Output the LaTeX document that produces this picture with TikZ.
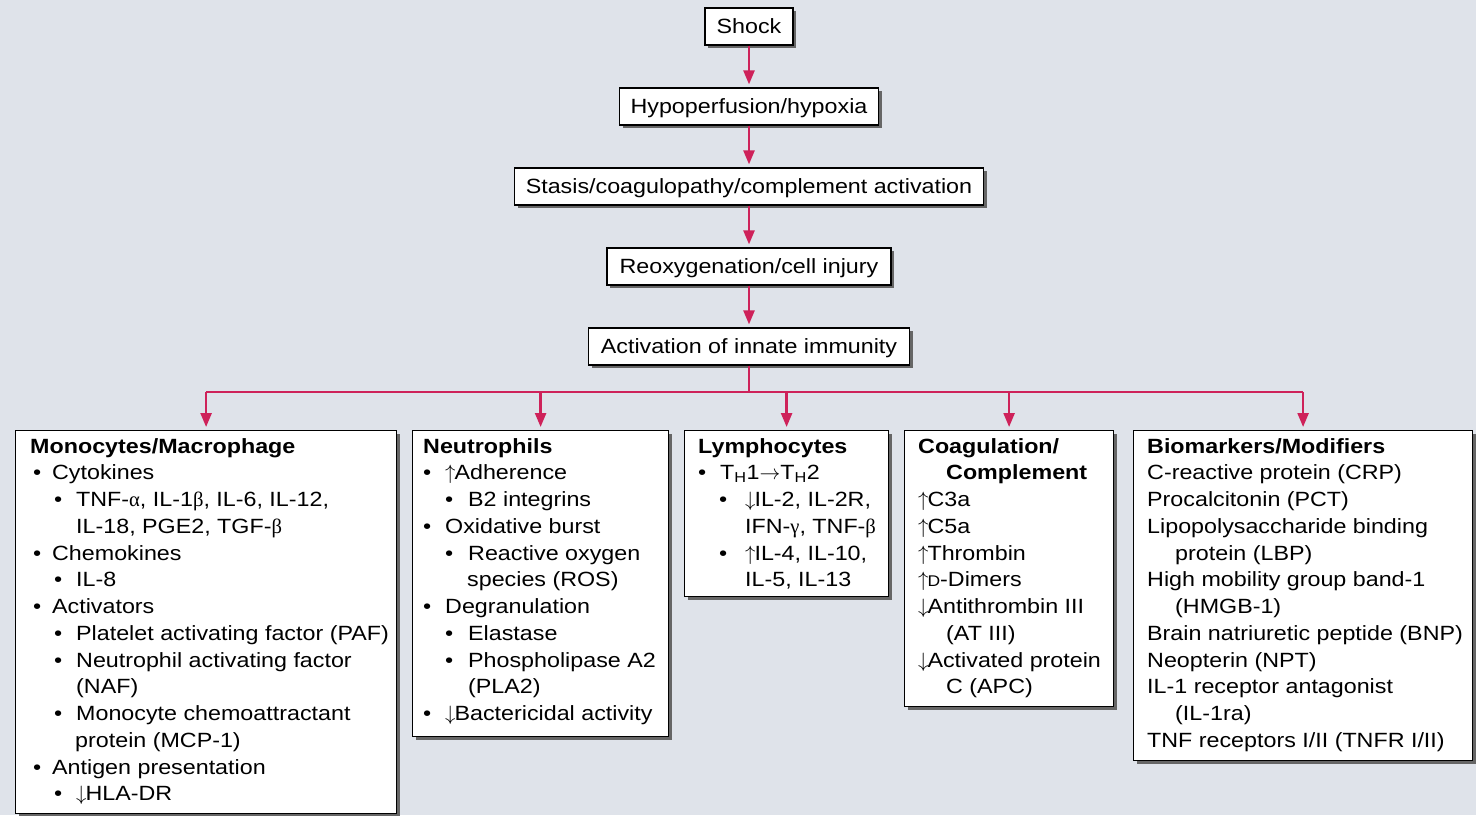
\documentclass[tikz,border=0pt]{standalone}
\usepackage{fontspec}
\setmainfont{Liberation Sans}[FakeStretch=1.13]
\newfontfamily\grk{Liberation Serif}
\usetikzlibrary{arrows.meta,shadows,calc}
\definecolor{bg}{RGB}{223,227,234}
\definecolor{arr}{RGB}{206,34,90}
\newcommand\Bu[3]{\hspace*{#1pt}\makebox[0pt]{•}\hspace*{#2pt}#3}
\newcommand\Ind[2]{\hspace*{#1pt}#2}
\newcommand\smD{{\fontsize{15.5}{15.5}\selectfont D}}
\newcommand\up{$\uparrow$\hspace{-1pt}}
\newcommand\dn{$\downarrow$\hspace{-1pt}}
\newcommand\ga{{\grk α}}
\newcommand\gb{{\grk β}}
\newcommand\gc{{\grk γ}}
\tikzset{
  box/.style={draw=black, line width=1.2pt, fill=white, inner sep=0pt,
    drop shadow={shadow xshift=3pt, shadow yshift=-3pt, fill=black!60, opacity=1}},
  topbox/.style={box, minimum height=37pt, text height=16pt, text depth=3pt,
    font=\fontsize{20.6}{26.75}\selectfont},
  lowbox/.style={box, anchor=north west},
  txt/.style={anchor=base west, inner sep=0pt, align=left,
    font=\fontsize{20.6}{26.75}\selectfont},
  link/.style={draw=arr, line width=2.4pt},
  conn/.style={link, -{Triangle[width=11pt,length=14pt]}, shorten >=3pt}
}
\begin{document}
\begin{tikzpicture}[x=1pt,y=-1pt]
\fill[bg] (0,0) rectangle (1476,815);
\useasboundingbox (0,0) rectangle (1476,815);

% top chain
\node[topbox, minimum width=88pt]  (shock)  at (749,26.5)  {Shock};
\node[topbox, minimum width=259pt] (hypo)   at (749,106.5) {Hypoperfusion/hypoxia};
\node[topbox, minimum width=469pt] (stasis) at (749,186.5) {Stasis/coagulopathy/complement activation};
\node[topbox, minimum width=284pt] (reox)   at (749,266.5) {Reoxygenation/cell injury};
\node[topbox, minimum width=321pt] (act)    at (749,346.5) {Activation of innate immunity};

% lower boxes
\node[lowbox, minimum width=381pt, minimum height=383pt] (mono)  at (15,430)   {};
\node[lowbox, minimum width=256pt, minimum height=306pt] (neut)  at (412,430)  {};
\node[lowbox, minimum width=204pt, minimum height=166pt] (lymph) at (684,430)  {};
\node[lowbox, minimum width=209pt, minimum height=276pt] (coag)  at (904,430)  {};
\node[lowbox, minimum width=339pt, minimum height=330pt] (bio)   at (1133,430) {};

% connectors
\coordinate (bus) at (749,392);
\draw[conn] (shock.south) -- (hypo.north);
\draw[conn] (hypo.south) -- (stasis.north);
\draw[conn] (stasis.south) -- (reox.north);
\draw[conn] (reox.south) -- (act.north);
\draw[link] (act.south) -- (bus);
\draw[link] (mono.north |- bus) -- (bio.north |- bus);
\draw[conn] (mono.north |- bus) -- (mono.north);
\draw[conn] (neut.north |- bus) -- (neut.north);
\draw[conn] (lymph.north |- bus) -- (lymph.north);
\draw[conn] (coag.north |- bus) -- (coag.north);
\draw[conn] (bio.north |- bus) -- (bio.north);

% texts
\node[txt] (monot) at (30,453) {\begin{tabular}[t]{@{}l@{}}
\textbf{Monocytes/Macrophage}\\
\Bu{7}{15}{Cytokines}\\
\Bu{28}{18}{TNF-\ga, IL-1\gb, IL-6, IL-12,}\\
\Ind{46}{IL-18, PGE2, TGF-\gb}\\
\Bu{7}{15}{Chemokines}\\
\Bu{28}{18}{IL-8}\\
\Bu{7}{15}{Activators}\\
\Bu{28}{18}{Platelet activating factor (PAF)}\\
\Bu{28}{18}{Neutrophil activating factor}\\
\Ind{46}{(NAF)}\\
\Bu{28}{18}{Monocyte chemoattractant}\\
\Ind{45}{protein (MCP-1)}\\
\Bu{7}{15}{Antigen presentation}\\
\Bu{28}{18}{\dn HLA-DR}
\end{tabular}};

\node[txt] (neutt) at (423,453) {\begin{tabular}[t]{@{}l@{}}
\textbf{Neutrophils}\\
\Bu{4}{18}{\up Adherence}\\
\Bu{26}{19}{B2 integrins}\\
\Bu{4}{18}{Oxidative burst}\\
\Bu{26}{19}{Reactive oxygen}\\
\Ind{44}{species (ROS)}\\
\Bu{4}{18}{Degranulation}\\
\Bu{26}{19}{Elastase}\\
\Bu{26}{19}{Phospholipase A2}\\
\Ind{45}{(PLA2)}\\
\Bu{4}{18}{\dn Bactericidal activity}
\end{tabular}};

\node[txt] (lympht) at (698,453) {\begin{tabular}[t]{@{}l@{}}
\textbf{Lymphocytes}\\
\Bu{4}{18}{T\textsubscript{H}1$\rightarrow$T\textsubscript{H}2}\\
\Bu{25}{22}{\dn IL-2, IL-2R,}\\
\Ind{47}{IFN-\gc, TNF-\gb}\\
\Bu{25}{22}{\up IL-4, IL-10,}\\
\Ind{47}{IL-5, IL-13}
\end{tabular}};

\node[txt] (coagt) at (918,453) {\begin{tabular}[t]{@{}l@{}}
\textbf{Coagulation/}\\
\Ind{28}{\textbf{Complement}}\\
\up C3a\\
\up C5a\\
\up Thrombin\\
\up\smD-Dimers\\
\dn Antithrombin III\\
\Ind{28}{(AT III)}\\
\dn Activated protein\\
\Ind{28}{C (APC)}
\end{tabular}};

\node[txt] (biot) at (1147,453) {\begin{tabular}[t]{@{}l@{}}
\textbf{Biomarkers/Modifiers}\\
C-reactive protein (CRP)\\
Procalcitonin (PCT)\\
Lipopolysaccharide binding\\
\Ind{28}{protein (LBP)}\\
High mobility group band-1\\
\Ind{28}{(HMGB-1)}\\
Brain natriuretic peptide (BNP)\\
Neopterin (NPT)\\
IL-1 receptor antagonist\\
\Ind{28}{(IL-1ra)}\\
TNF receptors I/II (TNFR I/II)
\end{tabular}};
\end{tikzpicture}
\end{document}
